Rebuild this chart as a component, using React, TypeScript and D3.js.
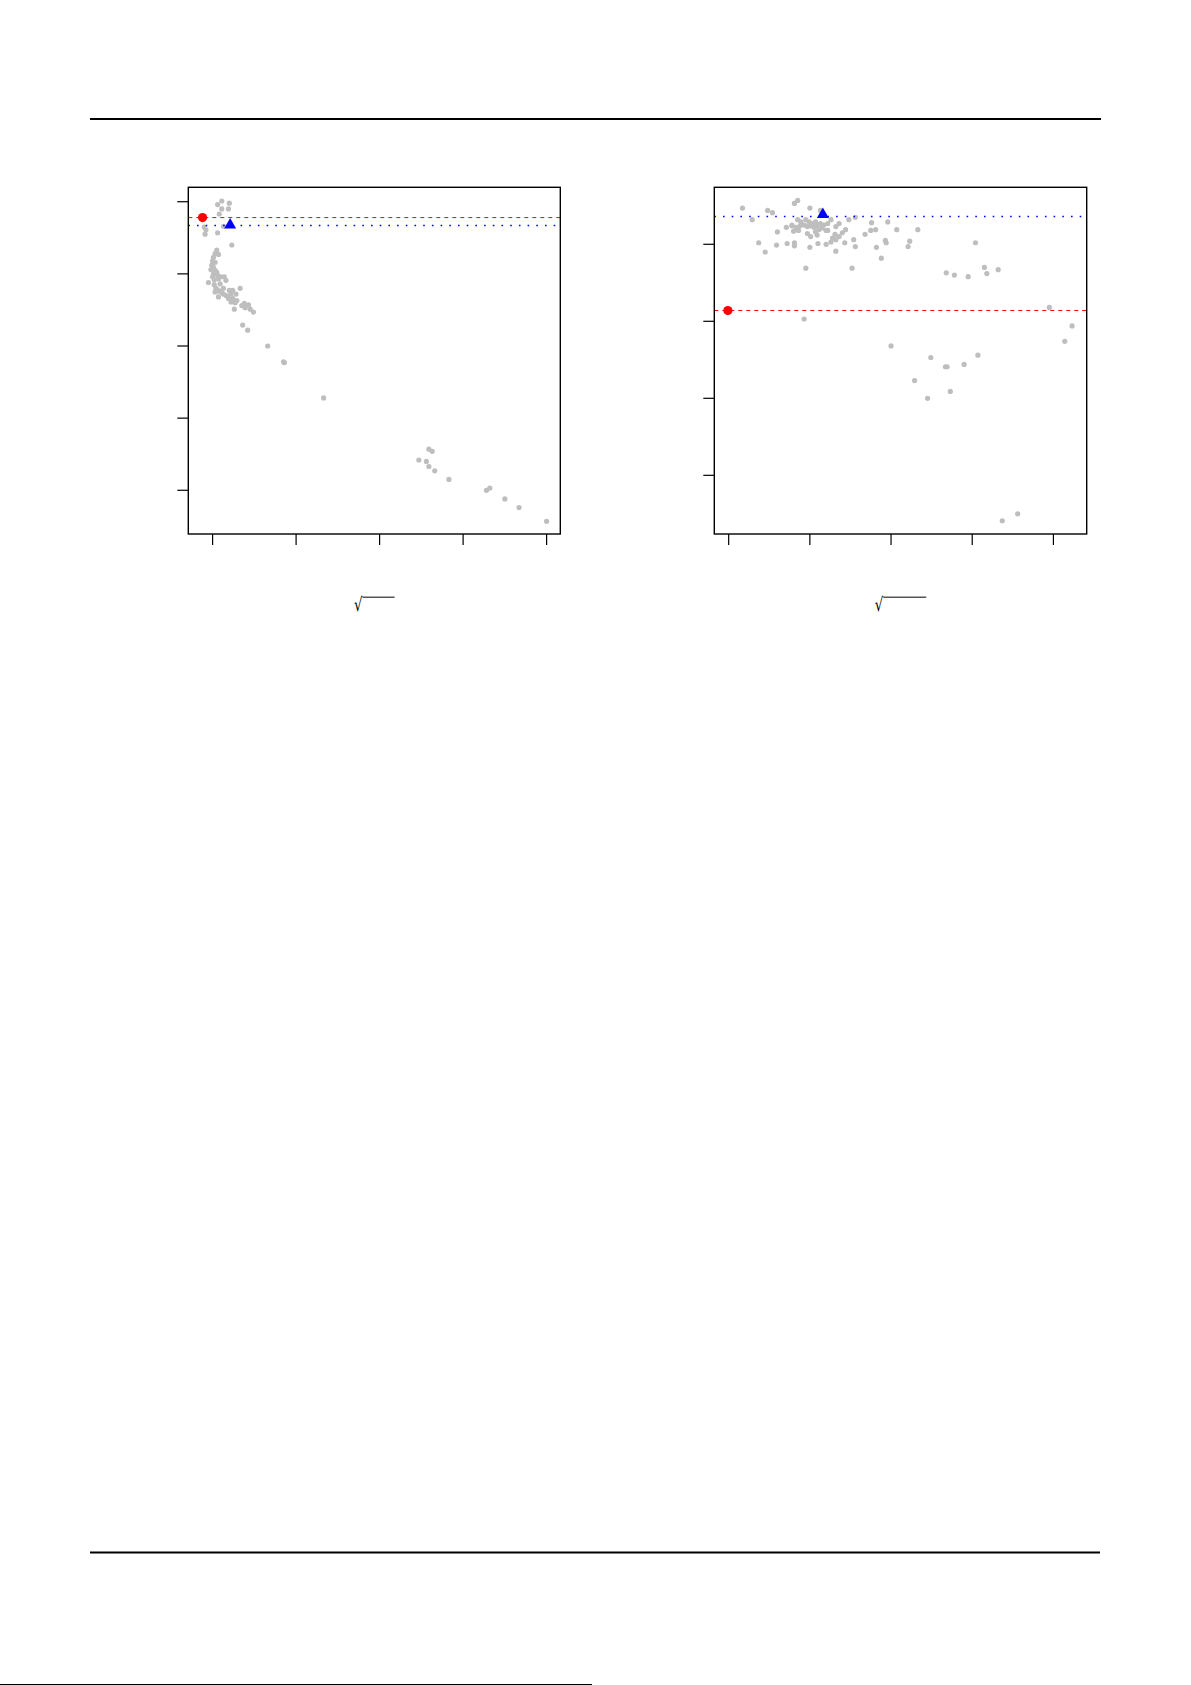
import React from "react";
import * as d3 from "d3";

// ---------- data (left panel) ----------
const leftX = [0.11,0.06,0.20,0.11,0.19,0.08,-0.10,-0.08,-0.09,0.06,0.13,0.23,0.05,0.03,0.07,0.01,0.00,0.03,-0.01,0.01,-0.02,0.03,0.05,0.01,0.06,0.10,0.14,0.16,0.07,-0.05,0.02,0.04,0.06,0.08,0.03,0.11,0.13,0.16,0.18,0.20,0.24,0.33,0.22,0.19,0.24,0.28,0.29,0.27,0.35,0.39,0.43,0.45,0.49,0.26,0.36,0.42,0.66,0.85,0.86,1.33,2.59,2.63,2.47,2.56,2.59,2.66,2.83,3.28,3.32,3.50,3.67,4.00,0.09,0.13,0.07,0.22,0.38,0.02,0.00];
const leftY = [4.01,3.96,3.98,3.90,3.90,3.83,3.65,3.61,3.55,3.57,3.66,3.40,3.33,3.28,3.27,3.23,3.18,3.16,3.12,3.09,3.06,3.05,3.02,3.00,2.98,2.96,2.96,2.91,2.93,2.88,2.85,2.80,2.78,2.76,2.75,2.74,2.72,2.70,2.69,2.77,2.77,2.80,2.72,2.66,2.66,2.72,2.63,2.60,2.56,2.53,2.57,2.51,2.47,2.51,2.29,2.22,2.00,1.78,1.77,1.28,0.57,0.54,0.42,0.40,0.33,0.27,0.15,0.00,0.03,-0.12,-0.24,-0.43,2.86,2.80,2.68,2.61,2.59,2.92,2.96];
const leftCircle = [-0.12, 3.78];
const leftTriangle = [0.21, 3.67];
const leftRedLine = 3.78;
const leftBlueLine = 3.67;
const leftXTicks = [0, 1, 2, 3, 4];
const leftYTicks = [0, 1, 2, 3, 4];
const leftXDomain = [-0.291, 4.164];
const leftYDomain = [-0.606, 4.2];

// ---------- data (right panel) ----------
const rightX = [0.17,0.29,0.48,0.54,0.37,0.45,0.60,0.59,0.72,0.71,0.78,0.81,0.85,0.81,0.81,1.00,0.80,0.86,0.95,1.00,1.10,1.20,1.13,1.22,0.85,0.89,0.95,0.99,1.03,1.07,0.88,0.93,0.97,1.01,1.05,1.09,1.13,1.17,1.22,1.26,0.78,0.83,0.97,1.01,1.07,1.11,1.15,1.20,1.09,1.32,1.36,1.48,1.56,1.31,1.40,1.44,1.28,1.26,1.32,1.36,1.43,1.32,1.54,1.56,1.52,1.68,1.75,1.81,1.76,1.82,1.88,1.93,1.94,1.96,2.07,2.23,2.21,2.33,3.04,2.68,2.78,2.95,3.15,3.18,3.32,0.93,3.95,4.23,4.14,2.00,2.49,2.67,2.69,2.90,3.07,2.29,2.45,2.73,3.37,3.56];
const rightY = [3.47,3.32,3.44,3.41,3.02,2.90,3.16,2.99,3.01,3.22,3.24,3.53,3.57,3.02,2.98,3.47,3.17,3.18,2.69,2.96,3.01,3.00,3.44,3.18,3.32,3.29,3.32,3.29,3.27,3.29,3.24,3.25,3.23,3.24,3.22,3.24,3.27,3.25,3.27,3.32,3.25,3.22,3.14,3.10,3.16,3.19,3.21,3.18,3.12,3.23,3.27,3.32,3.35,3.13,3.15,3.19,3.08,3.03,3.06,3.10,3.02,2.91,3.06,2.97,2.69,3.13,3.18,3.19,3.28,2.96,2.82,3.05,3.02,3.29,3.19,3.04,2.97,3.19,3.02,2.63,2.60,2.58,2.70,2.62,2.67,2.03,2.18,1.94,1.74,1.68,1.53,1.41,1.41,1.44,1.56,1.23,1.00,1.09,-0.59,-0.50];
const rightCircle = [-0.01, 2.14];
const rightTriangle = [1.16, 3.38];
const rightRedLine = 2.14;
const rightBlueLine = 3.36;
const rightXTicks = [0, 1, 2, 3, 4];
const rightYTicks = [0, 1, 2, 3];
const rightXDomain = [-0.177, 4.41];
const rightYDomain = [-0.762, 3.74];

const GRAY = "#bebebe";

type PanelProps = {
  x0: number; x1: number; y0: number; y1: number;
  xs: number[]; ys: number[];
  circle: number[]; tri: number[];
  red: number; blue: number;
  xTicks: number[]; yTicks: number[];
  xDomain: number[]; yDomain: number[];
  barLen: number;
};

function Panel(p: PanelProps) {
  const sx = d3.scaleLinear().domain(p.xDomain).range([p.x0, p.x1]);
  const sy = d3.scaleLinear().domain(p.yDomain).range([p.y1, p.y0]);
  const sym = d3.symbol().type(d3.symbolTriangle).size(62)();
  const cx = (p.x0 + p.x1) / 2;
  const labelStart = cx - (8.5 + p.barLen) / 2;
  return (
    <g>
      {p.xs.map((v, i) => (
        <circle key={i} cx={sx(v)} cy={sy(p.ys[i])} r={2.6} fill={GRAY} />
      ))}
      <line x1={p.x0} x2={p.x1} y1={sy(p.red)} y2={sy(p.red)} stroke="#ff0000" strokeWidth={1} strokeDasharray="4,4" />
      <line x1={p.x0} x2={p.x1} y1={sy(p.blue)} y2={sy(p.blue)} stroke="#0000ff" strokeWidth={1.6} strokeDasharray="1.6,7.1" />
      <circle cx={sx(p.circle[0])} cy={sy(p.circle[1])} r={4.6} fill="#ff0000" />
      <path d={sym as string} transform={`translate(${sx(p.tri[0])},${sy(p.tri[1]) - 0.5})`} fill="#0000ff" />
      <rect x={p.x0} y={p.y0} width={p.x1 - p.x0} height={p.y1 - p.y0} fill="none" stroke="#000" strokeWidth={1.4} />
      {p.yTicks.map((t) => (
        <line key={"y" + t} x1={p.x0 - 11} x2={p.x0} y1={sy(t)} y2={sy(t)} stroke="#000" strokeWidth={1.2} />
      ))}
      {p.xTicks.map((t) => (
        <line key={"x" + t} x1={sx(t)} x2={sx(t)} y1={p.y1} y2={p.y1 + 11} stroke="#000" strokeWidth={1.2} />
      ))}
      <text x={labelStart} y={611} fontFamily="DejaVu Sans" fontSize={19} fill="#000"
        textLength={8.5} lengthAdjust="spacingAndGlyphs">√</text>
      <line x1={labelStart + 8.5} x2={labelStart + 8.5 + p.barLen} y1={597.2} y2={597.2} stroke="#555" strokeWidth={1.6} />
    </g>
  );
}

export default function App() {
  return (
    <svg width={1191} height={1685} style={{ position: "absolute", left: 0, top: 0, background: "#fff" }}>
      <rect x={0} y={0} width={1191} height={1685} fill="#fff" />
      <line x1={90} x2={1101} y1={119} y2={119} stroke="#000" strokeWidth={2} />
      <line x1={90} x2={1100} y1={1552.5} y2={1552.5} stroke="#000" strokeWidth={2} />
      <line x1={0} x2={592} y1={1684.5} y2={1684.5} stroke="#000" strokeWidth={1} />
      <Panel x0={188.3} x1={560.3} y0={187.3} y1={534}
        xs={leftX} ys={leftY} circle={leftCircle} tri={leftTriangle}
        red={leftRedLine} blue={leftBlueLine}
        xTicks={leftXTicks} yTicks={leftYTicks} xDomain={leftXDomain} yDomain={leftYDomain} barLen={32} />
      <Panel x0={714.3} x1={1086.7} y0={187.3} y1={534}
        xs={rightX} ys={rightY} circle={rightCircle} tri={rightTriangle}
        red={rightRedLine} blue={rightBlueLine}
        xTicks={rightXTicks} yTicks={rightYTicks} xDomain={rightXDomain} yDomain={rightYDomain} barLen={43} />
    </svg>
  );
}
